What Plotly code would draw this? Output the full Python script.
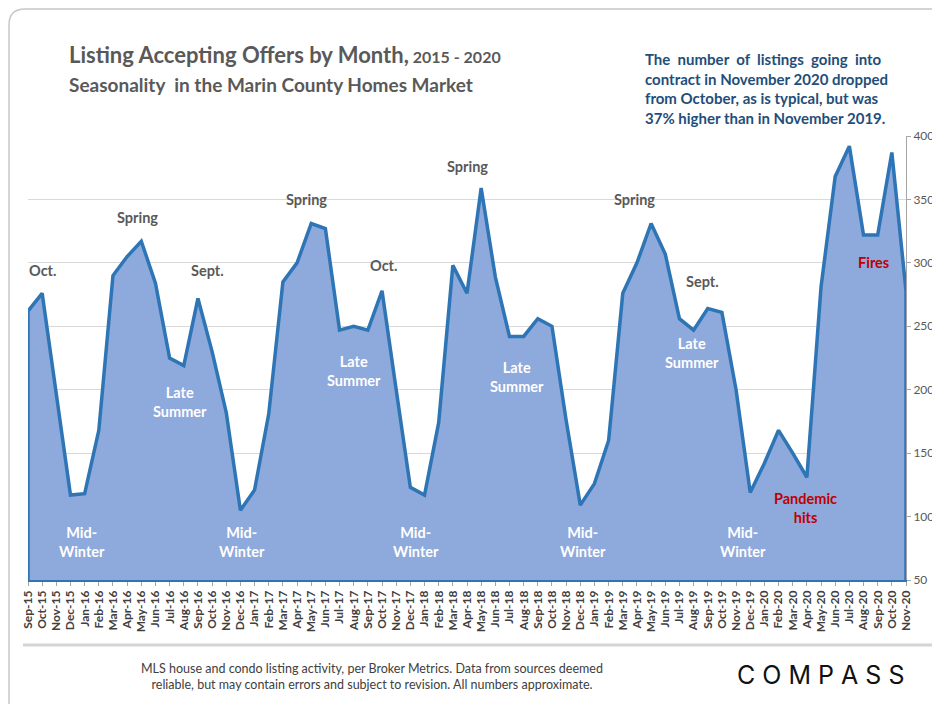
import pandas as pd
import plotly.graph_objects as go

# month labels Sep-15 .. Nov-20
months = list(pd.date_range('2015-09-01', '2020-11-01', freq='MS').strftime('%b-%y'))

listings = [262, 276, 195, 117,
            118, 168, 290, 305, 317, 284, 225, 219, 272, 230, 182, 105,
            121, 181, 285, 300, 331, 327, 247, 250, 247, 278, 200, 123,
            117, 174, 298, 276, 359, 289, 242, 242, 256, 250, 176, 109,
            126, 160, 276, 300, 331, 307, 256, 247, 264, 261, 200, 119,
            142, 168, 150, 131, 281, 368, 392, 322, 322, 387, 278]

y_min, y_max = 50, 400

# (label, x position as month index, y value, colour)
labels = [
    ("Oct.", 1.0, 294, 'dark'),
    ("Spring", 7.7, 336, 'dark'),
    ("Sept.", 12.7, 294, 'dark'),
    ("Late<br>Summer", 10.7, 190, 'white'),
    ("Mid-<br>Winter", 3.8, 80, 'white'),
    ("Mid-<br>Winter", 15.1, 80, 'white'),
    ("Spring", 19.7, 350, 'dark'),
    ("Late<br>Summer", 23.0, 215, 'white'),
    ("Oct.", 25.1, 298, 'dark'),
    ("Mid-<br>Winter", 27.4, 80, 'white'),
    ("Spring", 31.0, 376, 'dark'),
    ("Late<br>Summer", 34.5, 210, 'white'),
    ("Mid-<br>Winter", 39.2, 80, 'white'),
    ("Spring", 42.8, 350, 'dark'),
    ("Sept.", 47.6, 285, 'dark'),
    ("Late<br>Summer", 46.9, 229, 'white'),
    ("Mid-<br>Winter", 50.5, 80, 'white'),
    ("Pandemic<br>hits", 54.9, 107, 'red'),
    ("Fires", 59.7, 300, 'red'),
]
label_colors = {'dark': '#595959', 'white': 'white', 'red': '#C00000'}

# page body has an 8px margin, so the figure is drawn 8px in from the window corner
OFF = 8
W, H = 940 - OFF, 704 - OFF
L, R, T, B = 28 - OFF, 940 - 906, 136 - OFF, 704 - 580


def px(x, y):
    # window pixel position -> paper coords
    return (x - OFF - L) / (W - L - R), (H - B - (y - OFF)) / (H - T - B)


fig = go.Figure()
# closed area so the outline also runs down the sides and along the floor
fig.add_trace(go.Scatter(x=[months[0]] + months + [months[-1]],
                         y=[y_min] + listings + [y_min],
                         fill='toself', fillcolor='#8EA9DB',
                         line=dict(color='#2E75B6', width=3.5),
                         mode='lines', hoverinfo='skip', showlegend=False))

for text, xi, yv, c in labels:
    fig.add_annotation(x=xi, y=yv, text='<b>' + text + '</b>', showarrow=False,
                       font=dict(family='Lato', size=14.5, color=label_colors[c]))

fig.update_xaxes(type='category', range=[0, len(months) - 1], tickangle=-90, automargin=False,
                 tickmode='array', tickvals=months, ticktext=months,
                 showline=True, linecolor='#2E75B6', linewidth=1.5, ticks='outside',
                 ticklen=4, tickcolor='#a6a6a6', showgrid=False,
                 tickfont=dict(family='Lato', size=12, color='#404040', weight='bold'))
fig.update_yaxes(side='right', range=[y_min, y_max], dtick=50, showline=True, automargin=False,
                 linecolor='#a6a6a6', linewidth=1, ticks='outside', ticklen=4,
                 tickcolor='#a6a6a6', showgrid=True, gridcolor='#d9d9d9', zeroline=False,
                 tickfont=dict(family='Lato', size=12, color='#595959'))

# title block
x0, y0 = px(67, 70)
fig.add_annotation(xref='paper', yref='paper', x=x0, y=y0, xanchor='left', yanchor='bottom',
                   showarrow=False, align='left',
                   text='<b>Listing Accepting Offers by Month,</b><b style="font-size:16px"> 2015 - 2020</b>',
                   font=dict(family='Lato', size=22, color='#595959'))
x0, y0 = px(67, 84)
fig.add_annotation(xref='paper', yref='paper', x=x0, y=y0, xanchor='left', yanchor='middle',
                   showarrow=False, align='left',
                   text='<b>Seasonality  in the Marin County Homes Market</b>',
                   font=dict(family='Lato', size=19, color='#595959'))

x0, y0 = px(643, 88)
fig.add_annotation(xref='paper', yref='paper', x=x0, y=y0, xanchor='left', yanchor='middle',
                   showarrow=False, align='left',
                   text='<b>The  number  of  listings  going  into<br>contract in November 2020 dropped<br>'
                        'from October, as is typical, but was<br>37% higher than in November 2019.</b>',
                   font=dict(family='Lato', size=15, color='#1F4E79'))

# footer
x0, y0 = px(372, 676)
fig.add_annotation(xref='paper', yref='paper', x=x0, y=y0, xanchor='center', yanchor='middle',
                   showarrow=False, align='center',
                   text='MLS house and condo listing activity, per Broker Metrics. Data from sources deemed<br>'
                        'reliable, but may contain errors and subject to revision. All numbers approximate.',
                   font=dict(family='Lato', size=12.5, color='#404040'))
x0, y0 = px(820, 675)
fig.add_annotation(xref='paper', yref='paper', x=x0, y=y0, xanchor='center', yanchor='middle',
                   showarrow=False, text='C O M P A S S',
                   font=dict(family='Inter', size=25, color='#111111'))

# card frame and footer separator
fx0, fy0 = px(9, 704)
fx1, fy1 = px(9, 25)
fx2, fy2 = px(25, 9)
fx3, fy3 = px(940, 9)
fcx, fcy = px(9, 9)
fig.add_shape(type='path', xref='paper', yref='paper',
              path=f'M {fx0},{fy0} L {fx1},{fy1} Q {fcx},{fcy} {fx2},{fy2} L {fx3},{fy3}',
              line=dict(color='#c8c8c8', width=1.5))
sx0, sy = px(23, 645)
sx1, _ = px(932, 645)
fig.add_shape(type='line', xref='paper', yref='paper', x0=sx0, x1=sx1, y0=sy, y1=sy,
              line=dict(color='#d4d4d4', width=3))

fig.update_layout(width=W, height=H, margin=dict(l=L, r=R, t=T, b=B),
                  plot_bgcolor='white', paper_bgcolor='white', showlegend=False)

fig.write_html("out.html")
